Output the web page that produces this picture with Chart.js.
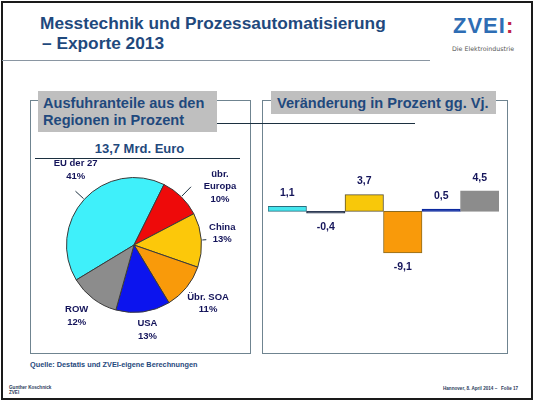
<!DOCTYPE html>
<html>
<head>
<meta charset="utf-8">
<script src="https://cdn.jsdelivr.net/npm/chart.js@4/dist/chart.umd.min.js"></script>
<style>
  html, body { margin:0; padding:0; background:#fff; }
  body { width:534px; height:402px; position:relative; overflow:hidden; font-family:"Liberation Sans", Arial, sans-serif; }
  .abs { position:absolute; }
  .frame { left:1px; top:1px; width:528px; height:395px; border:2px solid #1a1a1a; }
  .title { left:40px; top:13px; font-size:17.3px; font-weight:bold; color:#1f497d; line-height:20px; white-space:nowrap; }
  .rule { left:2px; top:60px; width:428px; height:1px; background:#8a96a2; }
  .logo { left:453px; top:14px; font-size:22px; font-weight:bold; color:#2e6db4; letter-spacing:1px; line-height:24px; }
  .logo span { color:#c0234b; }
  .logo-sub { left:452px; top:45px; font-size:6.3px; color:#555; white-space:nowrap; font-family:"DejaVu Sans", sans-serif; }
  .panel { border:1px solid #6f8490; }
  .hdr { background:#bfbfbf; color:#1f497d; font-weight:bold; font-size:14.6px; line-height:16.5px; }
  .sub { color:#1f497d; font-weight:bold; font-size:13px; }
  .src { left:30px; top:360px; color:#1f497d; font-weight:bold; font-size:7.3px; white-space:nowrap; }
  .foot { font-size:4.6px; color:#2a3a5a; font-weight:bold; line-height:5px; white-space:nowrap; }
</style>
</head>
<body>
<div class="abs frame"></div>
<div class="abs title">Messtechnik und Prozessautomatisierung<br><span style="padding-left:2px">– Exporte 2013</span></div>
<div class="abs rule"></div>
<div class="abs logo">ZVEI<span>:</span></div>
<div class="abs logo-sub">Die Elektroindustrie</div>

<div class="abs panel" style="left:30px;top:100px;width:219px;height:252px;"></div>
<div class="abs panel" style="left:262px;top:100px;width:244px;height:252px;"></div>

<div class="abs hdr" style="left:38px;top:91px;width:174px;height:41px;padding-left:5px;">
  <div style="padding-top:4px">Ausfuhranteile aus den<br>Regionen in Prozent</div>
</div>
<div class="abs hdr" style="left:271px;top:91px;width:219px;height:23px;padding-left:6px;">
  <div style="padding-top:4px">Veränderung in Prozent gg. Vj.</div>
</div>
<div class="abs" style="left:217px;top:123px;width:198px;height:1px;background:#1c3040;"></div>

<div class="abs sub" style="left:30px;top:141px;width:219px;text-align:center;">13,7 Mrd. Euro</div>
<div class="abs" style="left:35px;top:158px;width:205px;height:1px;background:#1c3040;"></div>

<canvas id="pieChart" class="abs" width="220" height="192" style="left:30px;top:158px;"></canvas>
<canvas id="barChart" class="abs" width="245" height="150" style="left:262px;top:150px;"></canvas>

<div class="abs src">Quelle: Destatis und ZVEI-eigene Berechnungen</div>
<div class="abs foot" style="left:9px;top:385px;">Gunther Koschnick<br>ZVEI</div>
<div class="abs foot" style="left:443px;top:386px;">Hannover, 8. April 2014 –&nbsp;&nbsp;&nbsp;Folie 17</div>

<script>
// Regions (pie) and change vs. previous year (bars)
const regions   = ['EU der 27', 'übr.\nEuropa', 'China', 'Übr. SOA', 'USA', 'ROW'];
const shares    = [41, 10, 13, 11, 13, 12];
const changes   = [1.1, -0.4, 3.7, -9.1, 0.5, 4.5];

const pieColors = ['#3ff0fa', '#ee0a0a', '#fcc80a', '#f99a0a', '#0c14ee', '#8c8c8c'];
const barColors = ['#45e6ee', '#2e3b55', '#f8c80a', '#f99a0a', '#0c2aa0', '#8c8c8c'];
const barBorder = ['#2a6f80', '#2e3b55', '#5a5030', '#8a6a20', '#0c2aa0', '#8c8c8c'];
const navy = '#14145a';

function fmtNum(v) { return String(v).replace('.', ','); }

// labels outside the pie, with short leader lines for the upper slices
const pieLabels = {
  id: 'pieLabels',
  afterDatasetsDraw(chart, args, opts) {
    const ctx = chart.ctx;
    ctx.save();
    ctx.font = 'bold 9.5px "Liberation Sans", Arial, sans-serif';
    ctx.fillStyle = navy;
    ctx.textAlign = 'center';
    ctx.textBaseline = 'middle';
    chart.getDatasetMeta(0).data.forEach((arc, i) => {
      const p = arc.getProps(['x', 'y', 'startAngle', 'endAngle', 'outerRadius']);
      const mid = (p.startAngle + p.endAngle) / 2;
      const c = Math.cos(mid), s = Math.sin(mid);
      const lead = opts.leaders[i];
      if (lead) {
        ctx.strokeStyle = '#1c3040';
        ctx.lineWidth = 1;
        ctx.beginPath();
        ctx.moveTo(p.x + c * (p.outerRadius + 1), p.y + s * (p.outerRadius + 1));
        ctx.lineTo(p.x + c * (p.outerRadius + lead), p.y + s * (p.outerRadius + lead));
        ctx.stroke();
      }
      const sh = opts.shift[i];
      const lx = p.x + c * (p.outerRadius + opts.gap) + sh[0];
      const ly = p.y + s * (p.outerRadius + opts.gap) + sh[1];
      const lines = chart.data.labels[i].split('\n').concat(shares[i] + '%');
      const lh = 12.5;
      lines.forEach((t, k) => ctx.fillText(t, lx, ly + (k - (lines.length - 1) / 2) * lh));
    });
    ctx.restore();
  }
};

// value labels above / below bars
const barLabels = {
  id: 'barLabels',
  afterDatasetsDraw(chart) {
    const ctx = chart.ctx;
    ctx.save();
    ctx.font = 'bold 10.5px "Liberation Sans", Arial, sans-serif';
    ctx.fillStyle = navy;
    ctx.textAlign = 'center';
    ctx.textBaseline = 'middle';
    chart.getDatasetMeta(0).data.forEach((bar, i) => {
      const v = changes[i];
      const y = v >= 0 ? bar.y - 13 : bar.y + 14;
      ctx.fillText(fmtNum(v), bar.x, y);
    });
    ctx.restore();
  }
};

new Chart(document.getElementById('pieChart'), {
  type: 'pie',
  data: {
    labels: regions,
    datasets: [{
      data: shares,
      backgroundColor: pieColors,
      borderColor: '#3a3a3a',
      borderWidth: 1
    }]
  },
  options: {
    responsive: false,
    animation: false,
    rotation: -121.2,
    layout: { padding: { left: 36, right: 48, top: 19, bottom: 37 } },
    plugins: {
      legend: { display: false },
      tooltip: { enabled: false },
      pieLabels: {
        gap: 24,
        leaders: [12, 14, 5, 0, 0, 0],
        shift: [[9, -13], [22, 7], [-3, -5], [3, 1], [1, -6], [-2, -2]]
      }
    }
  },
  plugins: [pieLabels]
});

new Chart(document.getElementById('barChart'), {
  type: 'bar',
  data: {
    labels: regions,
    datasets: [{
      data: changes,
      backgroundColor: barColors,
      borderColor: barBorder,
      borderWidth: 1,
      borderSkipped: false,
      categoryPercentage: 1,
      barPercentage: 1
    }]
  },
  options: {
    responsive: false,
    animation: false,
    layout: { padding: { left: 6, right: 8, top: 25, bottom: 34 } },
    scales: {
      x: { display: false },
      y: { display: false, min: -12, max: 8 }
    },
    plugins: { legend: { display: false }, tooltip: { enabled: false } }
  },
  plugins: [barLabels]
});
</script>
</body>
</html>
